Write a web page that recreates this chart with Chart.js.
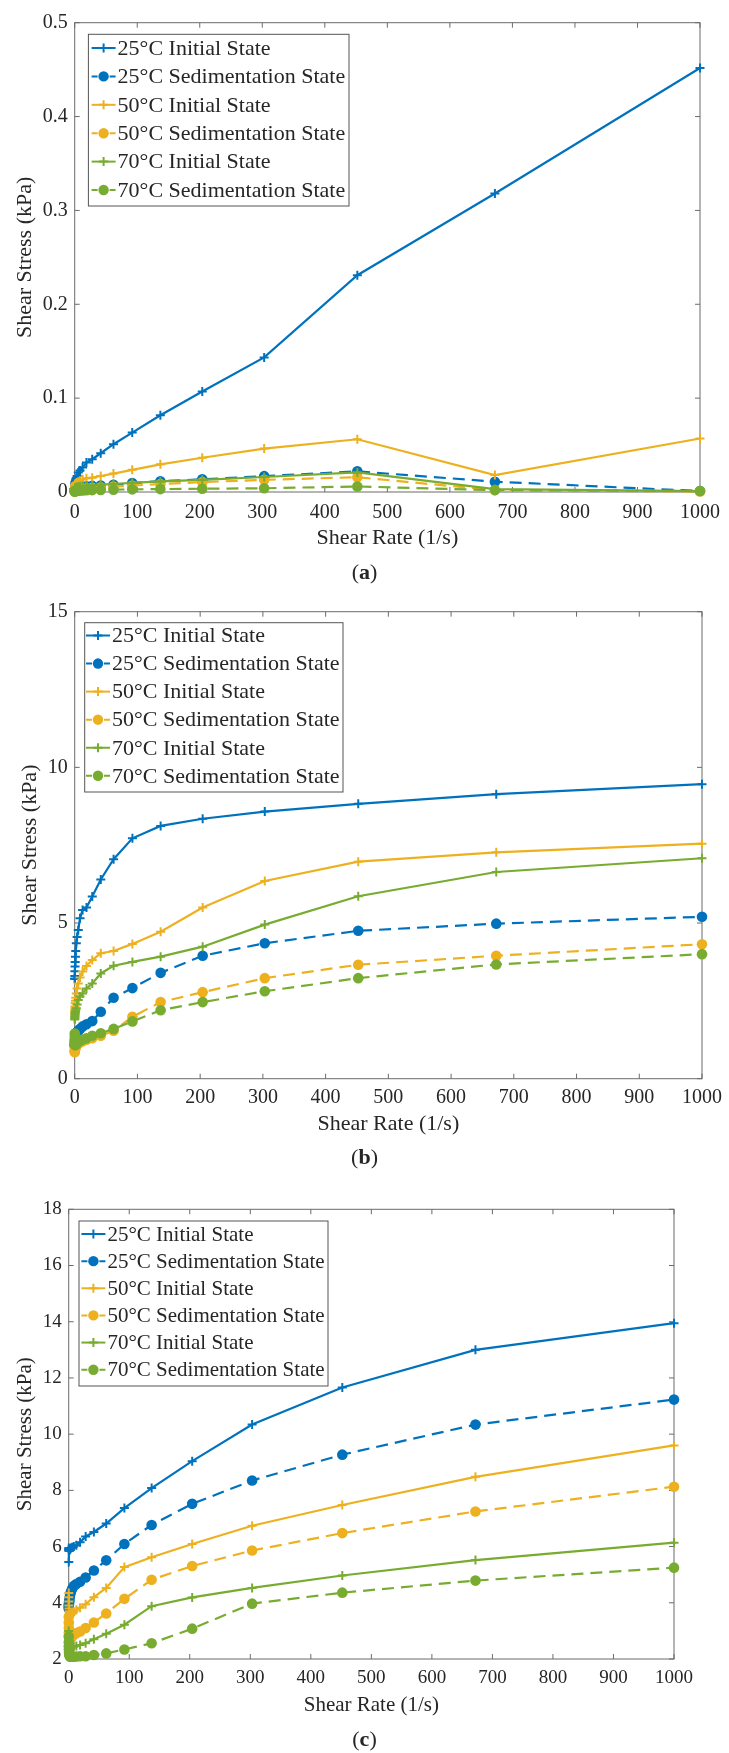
<!DOCTYPE html>
<html>
<head>
<meta charset="utf-8">
<script src="https://cdn.jsdelivr.net/npm/chart.js@4.4.1/dist/chart.umd.min.js"></script>
<style>
body{margin:0;background:#fff;width:729px;height:1753px;position:relative;overflow:hidden;font-family:"Liberation Serif",serif;color:#262626}
.pane{position:absolute;left:0;width:729px}
.cap{position:absolute;left:0;width:729px;text-align:center;font-size:22px;line-height:26px}
</style>
</head>
<body>
<div class="pane" style="top:0;height:590px"><canvas id="chartA"></canvas></div>
<div class="cap" style="top:559px">(<b>a</b>)</div>
<div class="pane" style="top:590px;height:590px"><canvas id="chartB"></canvas></div>
<div class="cap" style="top:1144px">(<b>b</b>)</div>
<div class="pane" style="top:1180px;height:573px"><canvas id="chartC"></canvas></div>
<div class="cap" style="top:1726px">(<b>c</b>)</div>
<script>
// DATA
const shearRate=[0.1,0.16,0.23,0.35,0.52,0.77,1.15,1.7,2.6,3.8,5.7,8.5,12.6,18.8,28,41.6,62,92,137,204,303,452,672,1000];
const seriesNames=["25°C Initial State","25°C Sedimentation State","50°C Initial State","50°C Sedimentation State","70°C Initial State","70°C Sedimentation State"];
const xTicks=[0,100,200,300,400,500,600,700,800,900,1000];

// (a) kPa
const stressA25i=[0.006,0.007,0.008,0.009,0.010,0.011,0.012,0.0135,0.015,0.017,0.0207,0.023,0.026,0.0313,0.0349,0.0413,0.0509,0.0633,0.0817,0.107,0.1434,0.231,0.318,0.4517];
const stressA25s=[0.002,0.0022,0.0025,0.0028,0.003,0.0032,0.0035,0.0038,0.004,0.0043,0.0047,0.005,0.0055,0.006,0.0065,0.007,0.0078,0.0095,0.0115,0.0135,0.0169,0.022,0.011,0.001];
const stressA50i=[0.004,0.005,0.006,0.007,0.0075,0.008,0.0085,0.009,0.0095,0.010,0.011,0.012,0.0135,0.0146,0.0153,0.017,0.0196,0.0236,0.0295,0.0365,0.0463,0.0562,0.018,0.057];
const stressA50s=[0.001,0.0012,0.0014,0.0016,0.0018,0.002,0.0022,0.0024,0.0026,0.0028,0.003,0.0033,0.0036,0.004,0.0044,0.005,0.0058,0.0068,0.0085,0.0105,0.013,0.0157,0.002,0.0005];
const stressA70i=[0.002,0.0025,0.003,0.0033,0.0036,0.004,0.0043,0.0046,0.005,0.0053,0.0057,0.006,0.0064,0.0068,0.0072,0.0078,0.0085,0.0098,0.0113,0.013,0.016,0.0208,0.003,0.001];
const stressA70s=[0.0005,0.0006,0.0007,0.0008,0.0009,0.001,0.0011,0.0012,0.0013,0.0014,0.0015,0.0016,0.0017,0.0018,0.002,0.0022,0.0025,0.0028,0.0031,0.0035,0.004,0.0059,0.002,0.001];
const yTicksA=[0,0.1,0.2,0.3,0.4,0.5];

// (b) kPa
const stressB25i=[3.2,3.22,3.3,3.45,3.6,3.75,3.92,4.1,4.35,4.55,4.78,5.15,5.42,5.5,5.85,6.4,7.05,7.72,8.12,8.35,8.58,8.83,9.14,9.46];
const stressB25s=[1.05,1.1,1.15,1.2,1.25,1.3,1.35,1.4,1.45,1.5,1.55,1.6,1.68,1.75,1.85,2.15,2.6,2.91,3.4,3.95,4.35,4.75,4.98,5.2];
const stressB50i=[2.1,2.15,2.2,2.26,2.32,2.42,2.5,2.6,2.74,2.9,3.06,3.25,3.44,3.62,3.81,4.03,4.1,4.33,4.72,5.5,6.35,6.97,7.27,7.55];
const stressB50s=[0.85,0.87,0.9,0.92,0.95,0.98,1.0,1.03,1.06,1.1,1.13,1.17,1.2,1.25,1.3,1.38,1.54,1.99,2.46,2.78,3.23,3.66,3.95,4.32];
const stressB70i=[1.9,1.94,1.98,2.02,2.06,2.1,2.15,2.2,2.26,2.38,2.53,2.64,2.74,2.9,3.06,3.38,3.63,3.75,3.92,4.24,4.95,5.86,6.64,7.08];
const stressB70s=[1.45,1.35,1.25,1.15,1.1,1.08,1.08,1.1,1.12,1.15,1.18,1.22,1.26,1.3,1.38,1.46,1.6,1.84,2.2,2.46,2.81,3.23,3.67,4.0];
const yTicksB=[0,5,10,15];

// (c) kPa
const stressC25i=[5.45,5.9,5.95,5.9,5.85,5.85,5.88,5.9,5.92,5.95,5.98,6.0,6.05,6.15,6.36,6.52,6.82,7.37,8.08,9.04,10.34,11.66,13.0,13.95];
const stressC25s=[3.8,3.85,3.9,3.95,4.0,4.05,4.1,4.2,4.3,4.4,4.5,4.6,4.67,4.75,4.9,5.15,5.51,6.09,6.77,7.52,8.35,9.27,10.34,11.23];
const stressC50i=[4.35,4.2,4.05,3.9,3.8,3.7,3.62,3.58,3.56,3.58,3.62,3.68,3.75,3.82,3.95,4.2,4.53,5.27,5.62,6.09,6.74,7.48,8.48,9.6];
const stressC50s=[3.5,3.3,3.1,2.95,2.85,2.78,2.72,2.7,2.72,2.76,2.8,2.86,2.92,2.98,3.1,3.3,3.62,4.14,4.82,5.31,5.86,6.48,7.25,8.13];
const stressC70i=[3.0,2.85,2.75,2.65,2.55,2.5,2.45,2.42,2.4,2.4,2.42,2.44,2.46,2.5,2.56,2.7,2.9,3.22,3.88,4.19,4.53,4.97,5.52,6.14];
const stressC70s=[2.8,2.6,2.45,2.35,2.25,2.18,2.14,2.1,2.08,2.08,2.08,2.08,2.09,2.1,2.1,2.14,2.2,2.34,2.56,3.08,3.97,4.36,4.79,5.25];
const yTicksC=[2,4,6,8,10,12,14,16,18];

const colors=["#0072BD","#EDB120","#77AC30"];
const ink="#262626";
const serif="'Liberation Serif', serif";
Chart.defaults.font.family=serif;

// PLUGINS
const frame={
  id:"frame",
  beforeDatasetsDraw(chart){
    const {ctx,chartArea:a,scales:{x,y}}=chart;
    ctx.save();
    ctx.strokeStyle="#6b6b6b"; ctx.lineWidth=1;
    ctx.strokeRect(a.left,a.top,a.width,a.height);
    ctx.beginPath();
    x.ticks.forEach(t=>{
      const p=x.getPixelForValue(t.value);
      ctx.moveTo(p,a.bottom); ctx.lineTo(p,a.bottom-5);
      ctx.moveTo(p,a.top); ctx.lineTo(p,a.top+5);
    });
    y.ticks.forEach(t=>{
      const p=y.getPixelForValue(t.value);
      ctx.moveTo(a.left,p); ctx.lineTo(a.left+5,p);
      ctx.moveTo(a.right,p); ctx.lineTo(a.right-5,p);
    });
    ctx.stroke();
    ctx.restore();
  }
};

const boxLegend={
  id:"boxLegend",
  afterDraw(chart,args,o){
    const ctx=chart.ctx;
    ctx.save();
    ctx.fillStyle="#fff"; ctx.strokeStyle="#555"; ctx.lineWidth=1;
    ctx.fillRect(o.x,o.y,o.w,o.h); ctx.strokeRect(o.x,o.y,o.w,o.h);
    ctx.font=o.size+"px "+serif;
    ctx.textBaseline="middle";
    chart.data.datasets.forEach((ds,i)=>{
      const ry=o.row0+i*o.rowH;
      ctx.strokeStyle=ds.borderColor; ctx.lineWidth=2;
      ctx.setLineDash(ds.borderDash.length?[6,12]:[]);
      ctx.beginPath(); ctx.moveTo(o.seg,ry); ctx.lineTo(o.seg+24,ry); ctx.stroke();
      ctx.setLineDash([]);
      const cx=o.seg+12;
      ctx.beginPath();
      if(ds.pointStyle==="circle"){
        ctx.fillStyle=ds.borderColor; ctx.arc(cx,ry,5.2,0,Math.PI*2); ctx.fill();
      }else{
        ctx.moveTo(cx-4.5,ry); ctx.lineTo(cx+4.5,ry);
        ctx.moveTo(cx,ry-4.5); ctx.lineTo(cx,ry+4.5); ctx.stroke();
      }
      ctx.fillStyle=ink;
      ctx.fillText(ds.label,o.seg+26,ry+1);
    });
    ctx.restore();
  }
};

function makeSets(vals){
  return vals.map((v,i)=>{
    const c=colors[Math.floor(i/2)], sed=i%2===1;
    return {
      label:seriesNames[i],
      data:shearRate.map((x,j)=>({x:x,y:v[j]})),
      borderColor:c, backgroundColor:c,
      borderWidth:2.2, borderDash:sed?[12,7]:[],
      pointStyle:sed?"circle":"cross",
      pointRadius:sed?5.3:4.5, pointBorderWidth:sed?0:2,
      pointBackgroundColor:c, pointBorderColor:c,
      tension:0, clip:false, order:5-i
    };
  });
}

function makeChart(id,vals,L){
  const tickFont={family:serif,size:L.tick};
  const titleFont={family:serif,size:L.title,weight:"normal"};
  return new Chart(document.getElementById(id),{
    type:"line",
    data:{datasets:makeSets(vals)},
    options:{
      responsive:true, maintainAspectRatio:false, animation:false,
      layout:{padding:{left:0,right:L.padR,top:L.padT,bottom:0}},
      plugins:{legend:{display:false},tooltip:{enabled:false},boxLegend:L.legend},
      scales:{
        x:{
          type:"linear", min:0, max:1000,
          afterBuildTicks:s=>{s.ticks=xTicks.map(v=>({value:v}));},
          afterFit:s=>{s.height=L.xH;},
          grid:{display:false,drawTicks:false}, border:{display:false},
          ticks:{color:ink,font:tickFont,padding:L.xPad,maxRotation:0,autoSkip:false,callback:v=>String(v)},
          title:{display:true,text:"Shear Rate (1/s)",color:ink,font:titleFont,padding:{top:0,bottom:L.xTitlePad}}
        },
        y:{
          min:L.yTicks[0], max:L.yTicks[L.yTicks.length-1],
          afterBuildTicks:s=>{s.ticks=L.yTicks.map(v=>({value:v}));},
          afterFit:s=>{s.width=L.yW;},
          grid:{display:false,drawTicks:false}, border:{display:false},
          ticks:{color:ink,font:tickFont,padding:7,callback:v=>String(v)},
          title:{display:true,text:"Shear Stress (kPa)",color:ink,font:titleFont,padding:{top:L.yTitlePad,bottom:0}}
        }
      }
    },
    plugins:[frame,boxLegend]
  });
}

makeChart("chartA",[stressA25i,stressA25s,stressA50i,stressA50s,stressA70i,stressA70s],{
  padR:21, padT:22.7, xH:98, yW:74.7, tick:20, title:22, xPad:9, xTitlePad:38.8, yTitlePad:12.4, yTicks:yTicksA,
  legend:{x:88.4,y:34.3,w:260.6,h:171.7,row0:48,rowH:28.4,seg:91.6,size:22}
});
makeChart("chartB",[stressB25i,stressB25s,stressB50i,stressB50s,stressB70i,stressB70s],{
  padR:25.3, padT:21.7, xH:101.3, yW:74.7, tick:20, title:22, xPad:7, xTitlePad:42.8, yTitlePad:16.8, yTicks:yTicksB,
  legend:{x:84.7,y:32.7,w:258.3,h:169.3,row0:45.5,rowH:28.06,seg:86,size:22}
});
makeChart("chartC",[stressC25i,stressC25s,stressC50i,stressC50s,stressC70i,stressC70s],{
  padR:55, padT:29.3, xH:94, yW:68.7, tick:19, title:21, xPad:7.5, xTitlePad:34.8, yTitlePad:13, yTicks:yTicksC,
  legend:{x:79,y:41,w:249,h:165,row0:54,rowH:27.14,seg:81.4,size:21}
});
</script>
</body>
</html>
